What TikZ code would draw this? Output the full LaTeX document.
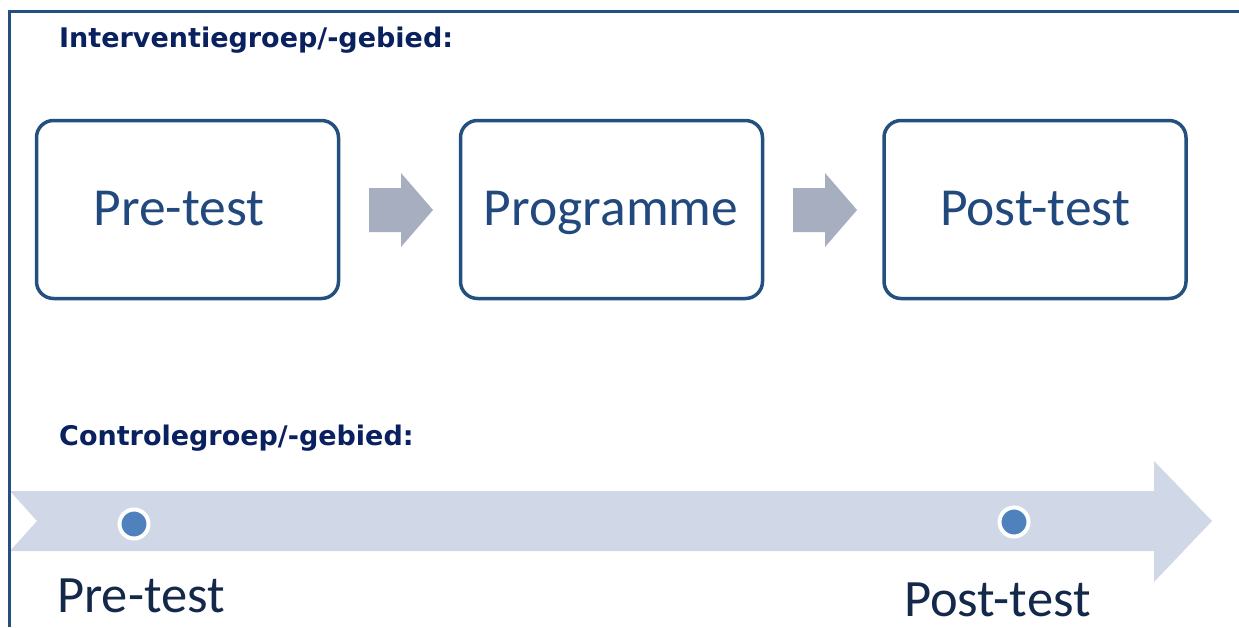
\documentclass[tikz,border=0pt]{standalone}
\usepackage{fontspec}
\setmainfont{Carlito}
\newfontfamily\headfont{DejaVu Sans}
\definecolor{framecol}{HTML}{24507F}
\definecolor{boxtext}{HTML}{22497D}
\definecolor{headcol}{HTML}{0A2160}
\definecolor{labelcol}{HTML}{14294A}
\definecolor{grayarrow}{HTML}{A7AEBF}
\definecolor{timeline}{HTML}{D0D8E7}
\definecolor{dotcol}{HTML}{4F81BD}
\tikzset{
  stagebox/.style={draw=framecol, line width=3.5pt, rounded corners=17pt, fill=white,
    minimum width=302pt, minimum height=178pt, inner sep=0pt},
  stagetext/.style={inner sep=0pt, font=\fontsize{53.5}{60}\selectfont, text=boxtext,
    text height=34pt, text depth=0pt},
  heading/.style={anchor=base west, inner sep=0pt, text=headcol,
    font=\fontsize{27}{31}\headfont\bfseries},
  timelabel/.style={anchor=base west, inner sep=0pt, text=labelcol,
    font=\fontsize{52.5}{60}\selectfont},
  dotmark/.style={circle, fill=dotcol, draw=white, line width=4pt, minimum size=29pt, inner sep=0pt},
  blockarrow/.style={fill=grayarrow},
}
\begin{document}
\begin{tikzpicture}[x=1pt,y=-1pt]
\useasboundingbox (0,0) rectangle (1239,627);
\fill[white] (0,0) rectangle (1239,627);
% timeline arrow
\fill[timeline] (10,491) -- (1154,491) -- (1154,461) -- (1212,521) -- (1154,582)
  -- (1154,551) -- (10,551) -- (37,521) -- cycle;
% frame
\draw[framecol, line width=3pt] (9.5,627) -- (9.5,11.5) -- (1239,11.5);
% headings
\node[heading] (h1) at (59,47) {Interventiegroep/-gebied:};
\node[heading] (h2) at (59,445) {Controlegroep/-gebied:};
% boxes
\node[stagebox] (b1) at (187.5,209.5) {};
\node[stagebox] (b2) at (611.5,209.5) {};
\node[stagebox] (b3) at (1035,209.5) {};
\node[stagetext] (t1) at (179,208) {Pre-test};
\node[stagetext] (t2) at (611,208) {Programme};
\node[stagetext] (t3) at (1035,208) {Post-test};
% block arrows between boxes
\fill[blockarrow] (369,188) -- (401,188) -- (401,173) -- (433,210) -- (401,247)
  -- (401,232) -- (369,232) -- cycle;
\fill[blockarrow] (793,188) -- (825,188) -- (825,173) -- (857,210) -- (825,247)
  -- (825,232) -- (793,232) -- cycle;
% dots and labels
\node[dotmark] (d1) at (134,524) {};
\node[dotmark] (d2) at (1014,522) {};
\node[timelabel] (l1) at (57,612) {Pre-test};
\node[timelabel] (l2) at (904,616) {Post-test};
\end{tikzpicture}
\end{document}
